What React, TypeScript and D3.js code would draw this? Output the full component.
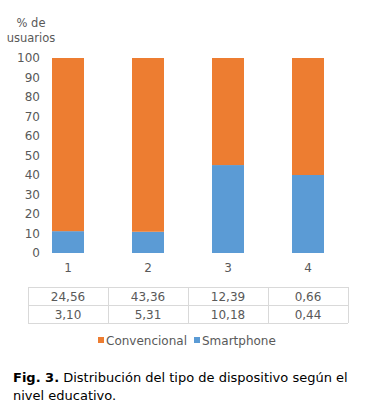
import * as d3 from 'd3';

// niveles educativos
const levels = ['1', '2', '3', '4'];
// % de usuarios por tipo de dispositivo (barras apiladas)
const smartphonePct = [11.2, 10.9, 45.1, 40.0];
const conventionalPct = [88.8, 89.1, 54.9, 60.0];
// tabla de valores bajo el eje
const conventionalVals = ['24,56', '43,36', '12,39', '0,66'];
const smartphoneVals = ['3,10', '5,31', '10,18', '0,44'];
const yTicks = [0, 10, 20, 30, 40, 50, 60, 70, 80, 90, 100];

const ORANGE = '#ED7D31';
const BLUE = '#5B9BD5';
const GREY = '#595959';
const FONT = 'Verdana, "DejaVu Sans", sans-serif';

export default function App() {
  const width = 367;
  const height = 416;

  const x = d3.scaleBand<string>()
    .domain(levels)
    .range([28, 348])
    .paddingInner(0.6)
    .paddingOuter(0.3);

  const y = d3.scaleLinear().domain([0, 100]).range([253, 58]);

  const step = x.step();
  const tableLeft = x.range()[0];
  const tableRight = x.range()[1];
  const rowTop = 287;
  const rowH = 18;

  return (
    <svg
      width={width}
      height={height}
      style={{ position: 'absolute', left: 0, top: 0, background: '#fff' }}
      fontFamily={FONT}
    >
      {/* título del eje Y */}
      <text x={31} y={27} textAnchor="middle" fontSize={11.5} fill={GREY}>% de</text>
      <text x={31} y={42} textAnchor="middle" fontSize={11.5} fill={GREY}>usuarios</text>

      {/* ticks Y */}
      {yTicks.map((t) => (
        <text key={t} x={40} y={y(t)} dy="0.35em" textAnchor="end" fontSize={12} fill={GREY}>
          {t}
        </text>
      ))}

      {/* barras */}
      {levels.map((l, i) => (
        <g key={l}>
          <rect
            x={x(l)}
            width={x.bandwidth()}
            y={y(smartphonePct[i])}
            height={y(0) - y(smartphonePct[i])}
            fill={BLUE}
          />
          <rect
            x={x(l)}
            width={x.bandwidth()}
            y={y(smartphonePct[i] + conventionalPct[i])}
            height={y(smartphonePct[i]) - y(smartphonePct[i] + conventionalPct[i])}
            fill={ORANGE}
          />
          <text
            x={(x(l) || 0) + x.bandwidth() / 2}
            y={272}
            textAnchor="middle"
            fontSize={12}
            fill={GREY}
          >
            {l}
          </text>
        </g>
      ))}

      {/* tabla de datos */}
      <g stroke="#d9d9d9" strokeWidth={1}>
        {[0, 1, 2].map((r) => (
          <line
            key={'h' + r}
            x1={tableLeft}
            x2={tableRight}
            y1={rowTop + r * rowH + 0.5}
            y2={rowTop + r * rowH + 0.5}
          />
        ))}
        {d3.range(levels.length + 1).map((c) => (
          <line
            key={'v' + c}
            x1={tableLeft + c * step + 0.5}
            x2={tableLeft + c * step + 0.5}
            y1={rowTop}
            y2={rowTop + 2 * rowH}
          />
        ))}
      </g>
      {[conventionalVals, smartphoneVals].map((row, r) =>
        row.map((v, i) => (
          <text
            key={r + '-' + i}
            x={(x(levels[i]) || 0) + x.bandwidth() / 2}
            y={rowTop + r * rowH + rowH / 2 + 0.5}
            dy="0.35em"
            textAnchor="middle"
            fontSize={12}
            fill={GREY}
          >
            {v}
          </text>
        ))
      )}

      {/* leyenda */}
      <g transform="translate(98,341)">
        <rect x={0} y={-4} width={6} height={6} fill={ORANGE} />
        <text x={8} y={0} dy="0.35em" fontSize={12} fill={GREY}>Convencional</text>
        <rect x={96} y={-4} width={6} height={6} fill={BLUE} />
        <text x={104} y={0} dy="0.35em" fontSize={12} fill={GREY}>Smartphone</text>
      </g>

      {/* pie de figura */}
      <text x={13} y={382} fontSize={13} fill="#000">
        <tspan fontWeight="bold">Fig. 3.</tspan>
        <tspan> Distribución del tipo de dispositivo según el</tspan>
      </text>
      <text x={13} y={400} fontSize={13} fill="#000">nivel educativo.</text>
    </svg>
  );
}
